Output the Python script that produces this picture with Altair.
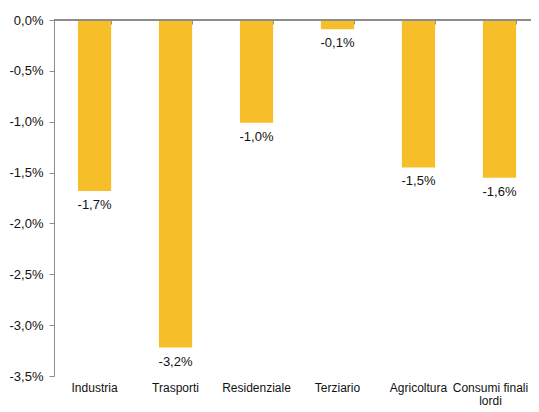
import altair as alt
import pandas as pd

categories = ["Industria", "Trasporti", "Residenziale", "Terziario", "Agricoltura", "Consumi finali\nlordi"]
values = [-1.68, -3.22, -1.01, -0.09, -1.45, -1.55]
labels = ["-1,7%", "-3,2%", "-1,0%", "-0,1%", "-1,5%", "-1,6%"]
y_ticks = [0, -0.5, -1.0, -1.5, -2.0, -2.5, -3.0, -3.5]

df = pd.DataFrame({"cat": categories, "val": values, "lab": labels})

FONT = "Liberation Sans"
AXIS_GRAY = "#8c8c8c"

x_scale = alt.Scale(paddingInner=0.59, paddingOuter=0.24, align=0.616)

x_bottom = alt.X(
    "cat:N",
    sort=categories,
    scale=x_scale,
    axis=alt.Axis(
        orient="bottom", title=None, domain=False, ticks=False, labelAngle=0,
        labelPadding=6, labelFontSize=12, labelColor="#111", labelFont=FONT,
        labelExpr="split(datum.label, '\\n')", labelLineHeight=13,
        labelOffset={"condition": {"test": "indexof(datum.value, 'Consumi') >= 0", "value": -9}, "value": 0},
    ),
)

y_enc = alt.Y(
    "val:Q",
    scale=alt.Scale(domain=[-3.5, 0], nice=False, zero=False),
    axis=alt.Axis(
        title=None, values=y_ticks, grid=False, domainColor=AXIS_GRAY, tickColor=AXIS_GRAY,
        tickSize=5, labelPadding=6, labelFontSize=13, labelColor="#111", labelFont=FONT,
        labelExpr="(datum.value < 0 ? '-' : '') + replace(format(abs(datum.value), '.1f'), '.', ',') + '%'",
    ),
)

bars = alt.Chart(df).mark_bar(color="#F6BF2A").encode(x=x_bottom, y=y_enc)

text = alt.Chart(df).mark_text(
    baseline="top", dy=8, fontSize=13, font=FONT, color="#111"
).encode(x=alt.X("cat:N", sort=categories, axis=None), y="val:Q", text="lab:N")

zero_line = alt.Chart(df).mark_rule(color=AXIS_GRAY, strokeWidth=1.5).encode(y=alt.datum(0))

top_ticks = alt.Chart(df).mark_bar(opacity=0).encode(
    x=alt.X(
        "cat:N", sort=categories,
        axis=alt.Axis(orient="top", title=None, labels=False, domain=False,
                      tickBand="extent", tickSize=4, tickColor=AXIS_GRAY, offset=-4),
    ),
    y=alt.Y("val:Q"),
)

chart = alt.layer(bars, zero_line, top_ticks, text).resolve_axis(x="independent").properties(
    width=477, height=356,
    autosize=alt.AutoSizeParams(type="none"),
    padding={"left": 46, "top": 12, "right": 0, "bottom": 30},
).configure_view(stroke=None)

chart.save("out.html", embed_options={"renderer": "svg", "actions": False})
